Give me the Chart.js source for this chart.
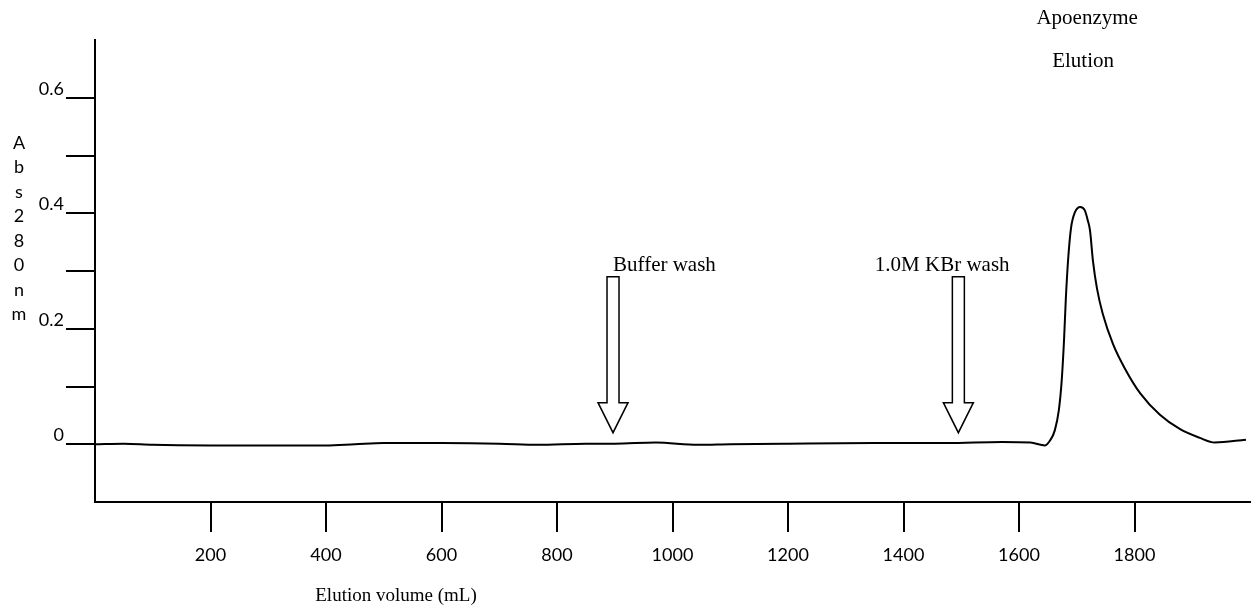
<!DOCTYPE html>
<html>
<head>
<meta charset="utf-8">
<script src="https://cdn.jsdelivr.net/npm/chart.js@4.4.1/dist/chart.umd.min.js"></script>
<style>
  html, body { margin: 0; padding: 0; background: #fff; }
  #wrap { width: 1253px; height: 609px; }
</style>
</head>
<body>
<div id="wrap"><canvas id="grafico" width="1253" height="609"></canvas></div>
<script>
// volume de eluicao (mL) e absorbancia a 280 nm
const volume = [0, 50, 100, 200, 300, 400, 450, 500, 600, 700, 767, 850, 900, 971, 1044, 1100, 1200, 1350, 1475, 1570, 1620, 1645,
  1654, 1662, 1669, 1674, 1678, 1681, 1685, 1690, 1697, 1706, 1714, 1719, 1723, 1728, 1735, 1745, 1763, 1784, 1810, 1844, 1879,
  1913, 1939, 1993];
const abs280 = [0.000, 0.001, -0.001, -0.002, -0.002, -0.002, 0.000, 0.002, 0.002, 0.001, -0.001, 0.001, 0.001, 0.003, -0.001, 0.000,
  0.001, 0.002, 0.002, 0.004, 0.003, -0.002,
  0.007, 0.024, 0.059, 0.111, 0.181, 0.250, 0.319, 0.374, 0.402, 0.411, 0.405, 0.388, 0.370, 0.318, 0.270, 0.226, 0.173, 0.130,
  0.088, 0.051, 0.026, 0.011, 0.003, 0.008];

const xTicks = [200, 400, 600, 800, 1000, 1200, 1400, 1600, 1800];
const yTicks = [0, 0.1, 0.2, 0.3, 0.4, 0.5, 0.6];
const yLabels = ['0', '', '0.2', '', '0.4', '', '0.6'];

// setas (volume, topo, base da ponta, ponta) em unidades do grafico
const setas = [
  { x: 897, top: 0.29, base: 0.072, tip: 0.02 },
  { x: 1495, top: 0.29, base: 0.072, tip: 0.02 }
];

const pontos = volume.map((v, i) => ({ x: v, y: abs280[i] }));

const serif = '"Liberation Serif", "Times New Roman", serif';
const sans = 'Lato, "Open Sans", sans-serif';

const anotacoes = {
  id: 'anotacoes',
  afterDraw(chart) {
    const ctx = chart.ctx;
    const sx = chart.scales.x, sy = chart.scales.y;
    ctx.save();

    // setas ocas
    ctx.strokeStyle = '#000';
    ctx.lineWidth = 1.5;
    ctx.fillStyle = '#fff';
    setas.forEach(s => {
      const cx = sx.getPixelForValue(s.x);
      const yt = sy.getPixelForValue(s.top);
      const yb = sy.getPixelForValue(s.base);
      const yp = sy.getPixelForValue(s.tip);
      ctx.beginPath();
      ctx.moveTo(cx - 6, yt);
      ctx.lineTo(cx + 6, yt);
      ctx.lineTo(cx + 6, yb);
      ctx.lineTo(cx + 15, yb);
      ctx.lineTo(cx, yp);
      ctx.lineTo(cx - 15, yb);
      ctx.lineTo(cx - 6, yb);
      ctx.closePath();
      ctx.fill();
      ctx.stroke();
    });

    // textos
    ctx.fillStyle = '#000';
    ctx.textBaseline = 'middle';
    ctx.font = '21px ' + serif;
    ctx.textAlign = 'left';
    ctx.fillText('Buffer wash', sx.getPixelForValue(897), sy.getPixelForValue(0.31));
    ctx.textAlign = 'center';
    ctx.fillText('1.0M KBr wash', sx.getPixelForValue(1467), sy.getPixelForValue(0.31));
    ctx.fillText('Apoenzyme', sx.getPixelForValue(1718), sy.getPixelForValue(0.737));
    ctx.fillText('Elution', sx.getPixelForValue(1711), sy.getPixelForValue(0.663));
    ctx.font = '19px ' + serif;
    ctx.fillText('Elution volume (mL)', 396, 596);

    // titulo do eixo y, uma letra por linha
    ctx.font = '18px ' + sans;
    'Abs280nm'.split('').forEach((c, i) => {
      ctx.fillText(c, 19, 143 + i * 24.5);
    });
    ctx.restore();
  }
};

new Chart(document.getElementById('grafico'), {
  type: 'line',
  data: {
    datasets: [{
      data: pontos,
      borderColor: '#000',
      borderWidth: 2,
      pointRadius: 0,
      fill: false,
      cubicInterpolationMode: 'monotone'
    }]
  },
  options: {
    responsive: false,
    animation: false,
    layout: { padding: { top: 40, right: 3, left: 0, bottom: 0 } },
    plugins: { legend: { display: false }, tooltip: { enabled: false } },
    scales: {
      x: {
        type: 'linear',
        min: 0,
        max: 2000,
        afterBuildTicks: axis => { axis.ticks = xTicks.map(v => ({ value: v })); },
        afterFit: scale => { scale.height = 107; },
        border: { display: true, color: '#000', width: 2 },
        grid: { drawOnChartArea: false, drawTicks: true, tickLength: 30, color: '#000', lineWidth: 2 },
        ticks: {
          color: '#000',
          font: { family: sans, size: 18 },
          padding: 12,
          maxRotation: 0,
          autoSkip: false,
          callback: v => String(v)
        }
      },
      y: {
        type: 'linear',
        min: -0.1,
        max: 0.7,
        afterBuildTicks: axis => { axis.ticks = yTicks.map(v => ({ value: v })); },
        afterFit: scale => { scale.width = 95; },
        border: { display: true, color: '#000', width: 2 },
        grid: { drawOnChartArea: false, drawTicks: true, tickLength: 29, color: '#000', lineWidth: 2 },
        ticks: {
          color: '#000',
          font: { family: sans, size: 18 },
          padding: 2,
          labelOffset: -9,
          autoSkip: false,
          callback: (v, i) => yLabels[i]
        }
      }
    }
  },
  plugins: [anotacoes]
});
</script>
</body>
</html>
